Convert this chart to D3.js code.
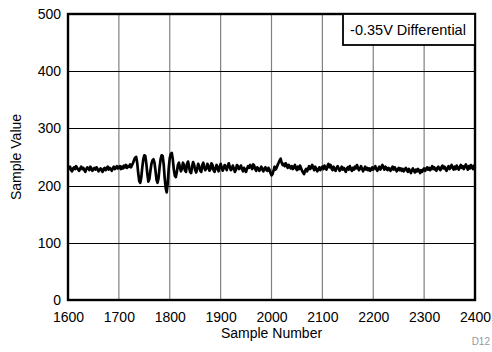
<!DOCTYPE html>
<html><head><meta charset="utf-8">
<script src="https://cdn.jsdelivr.net/npm/d3@7"></script>
<style>body{margin:0;background:#fff}svg{display:block;font-family:"Liberation Sans",Arial,Helvetica,sans-serif}</style>
</head><body>
<svg id="c" width="492" height="352"></svg>
<script>
const xTicks = [1600,1700,1800,1900,2000,2100,2200,2300,2400];
const yTicks = [0,100,200,300,400,500];
const sampleStart = 1600, sampleStep = 2;
const values = [
228,231,233,227,225,230,232,229,234,231, 228,226,230,233,229,231,227,224,229,232, 230,227,233,230,226,229,231,228,232,229, 225,227,230,228,224,229,231,227,230,233, 228,231,229,226,230,233,229,231,234,230,
231,234,229,233,230,235,232,236,231,234, 233,237,232,236,240,245,249,250,240,222, 208,205,214,232,246,253,252,238,220,207, 212,226,238,244,246,240,226,210,205,213, 232,246,253,252,238,214,196,188,204,230,
248,255,257,246,228,217,215,224,236,240, 232,225,230,240,236,226,224,238,242,232, 224,222,234,241,236,227,223,230,238,233, 226,224,236,240,231,227,230,238,234,226, 229,239,236,227,224,231,236,230,225,233,
238,232,226,230,236,233,227,234,239,233, 227,229,235,230,224,228,236,234,229,231, 235,229,225,231,228,224,230,234,231,236, 233,229,237,235,229,226,232,230,226,229, 233,228,225,230,232,227,226,231,228,222,
218,220,226,233,228,231,236,240,244,247, 240,236,238,234,239,235,231,236,233,230, 234,229,232,236,230,227,233,229,235,231, 226,223,220,226,229,225,230,234,229,232, 236,231,227,233,229,225,228,232,227,230,
233,229,235,231,228,234,238,232,236,230, 227,233,229,226,231,234,230,226,229,233, 228,231,227,224,230,232,228,234,229,226, 231,228,233,230,236,231,227,230,234,229, 225,229,233,228,231,227,230,226,229,232,
228,231,234,229,226,230,233,228,231,236, 232,228,233,230,227,231,229,226,230,233, 228,232,229,225,228,231,227,230,226,229, 225,228,231,227,224,229,226,222,227,230, 226,223,228,225,229,226,222,227,224,228,
230,226,229,232,228,231,227,230,234,229, 232,228,226,231,233,229,227,232,235,230, 233,229,226,231,234,229,232,236,231,228, 233,229,235,231,228,232,236,231,234,229, 233,237,232,228,234,230,236,232,229,235,
231];
const samples = values.map((v,i)=>sampleStart + i*sampleStep);
const legendText = "-0.35V Differential";
const xTitle = "Sample Number", yTitle = "Sample Value", note = "D12";

const L=68,R=475,T=14,B=300;
const FS=14;
const svg = d3.select("#c");
const x = d3.scaleLinear().domain([1600,2400]).range([L,R]);
const y = d3.scaleLinear().domain([0,500]).range([B,T]);

// grid
svg.append("g").selectAll("line").data(xTicks.slice(1,-1)).join("line")
  .attr("x1",d=>x(d)).attr("x2",d=>x(d)).attr("y1",T).attr("y2",B)
  .attr("stroke","#808080").attr("stroke-width",1.2);
svg.append("g").selectAll("line").data(yTicks.slice(1,-1)).join("line")
  .attr("x1",L).attr("x2",R).attr("y1",d=>Math.round(y(d))+0.5).attr("y2",d=>Math.round(y(d))+0.5)
  .attr("stroke","#000").attr("stroke-width",1);

// axes labels via d3 axes
const xAxis = svg.append("g").attr("transform",`translate(0,${B})`)
  .call(d3.axisBottom(x).tickValues(xTicks).tickSize(0).tickPadding(12).tickFormat(d3.format("d")));
const yAxis = svg.append("g").attr("transform",`translate(${L},0)`)
  .call(d3.axisLeft(y).tickValues(yTicks).tickSize(0).tickPadding(7).tickFormat(d3.format("d")));
[xAxis,yAxis].forEach(a=>{a.select(".domain").remove();
  a.selectAll("text").attr("font-size",FS).attr("fill","#000").attr("font-family","'Liberation Sans',Arial,sans-serif");});

// data line
svg.append("path").datum(values)
  .attr("fill","none").attr("stroke","#000").attr("stroke-width",2.7).attr("stroke-linejoin","round")
  .attr("d", d3.line().x((d,i)=>x(samples[i])).y(d=>y(d)));

// frame
svg.append("rect").attr("x",L).attr("y",T).attr("width",R-L).attr("height",B-T)
  .attr("fill","none").attr("stroke","#000").attr("stroke-width",2.4);

// legend
svg.append("rect").attr("x",343).attr("y",T).attr("width",R-343).attr("height",31)
  .attr("fill","#fff").attr("stroke","#000").attr("stroke-width",1.8);
svg.append("text").attr("x",408).attr("y",35).attr("text-anchor","middle")
  .attr("font-size",14.5).text(legendText);

// titles
svg.append("text").attr("x",(L+R)/2).attr("y",338).attr("text-anchor","middle").attr("font-size",FS).text(xTitle);
svg.append("text").attr("transform",`translate(21,${(T+B)/2}) rotate(-90)`).attr("text-anchor","middle").attr("font-size",FS).text(yTitle);
svg.append("text").attr("x",490).attr("y",345).attr("text-anchor","end").attr("font-size",10).attr("fill","#999").text(note);
</script>
</body></html>
